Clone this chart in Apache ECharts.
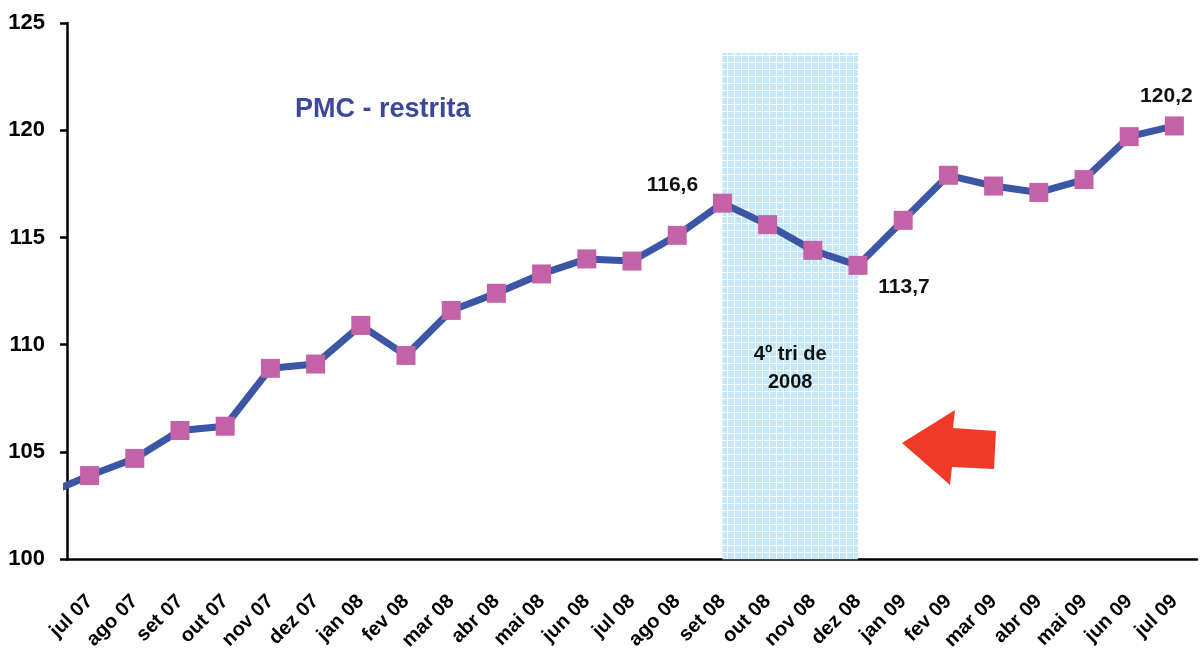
<!DOCTYPE html>
<html>
<head>
<meta charset="utf-8">
<script src="https://cdn.jsdelivr.net/npm/echarts@6/dist/echarts.min.js"></script>
<style>
  html, body { margin: 0; padding: 0; background: #fff; }
  #chart { width: 1201px; height: 653px; }
</style>
</head>
<body>
<div id="chart"></div>
<script>
const months = ["jul 07", "ago 07", "set 07", "out 07", "nov 07", "dez 07", "jan 08", "fev 08",
  "mar 08", "abr 08", "mai 08", "jun 08", "jul 08", "ago 08", "set 08", "out 08", "nov 08",
  "dez 08", "jan 09", "fev 09", "mar 09", "abr 09", "mai 09", "jun 09", "jul 09"];
const pmc = [103.9, 104.7, 106.0, 106.2, 108.9, 109.1, 110.9, 109.5, 111.6, 112.4, 113.3, 114.0,
  113.9, 115.1, 116.6, 115.6, 114.4, 113.7, 115.8, 117.9, 117.4, 117.1, 117.7, 119.7, 120.2];
// jun 07, only its segment into the plot is visible at the left edge
const pmcBefore = 103.0;
const yTicks = { min: 100, max: 125, step: 5 };
const crisisFrom = "set 08";
const crisisTo = "dez 08";
const crisisTop = 123.6;
const labelled = { "set 08": "116,6", "dez 08": "113,7", "jul 09": "120,2" };

const FONT = "'Liberation Sans', Arial, sans-serif";

function makeGridPattern() {
  const c = document.createElement("canvas");
  c.width = 7;
  c.height = 7;
  const g = c.getContext("2d");
  g.fillStyle = "#ffffff";
  g.fillRect(0, 0, 7, 7);
  g.fillStyle = "#c4e8f9";
  g.fillRect(0, 0, 6, 6);
  return c;
}

const labelOffsets = {
  "set 08": [-50, -18],
  "dez 08": [46, 22],
  "jul 09": [-8, -30]
};

const lineData = [[-1, pmcBefore]].concat(pmc.map((v, i) => {
  const m = months[i];
  const item = { value: [i, v] };
  if (labelled[m]) {
    item.label = {
      show: true,
      position: "inside",
      offset: labelOffsets[m],
      formatter: labelled[m],
      color: "#111",
      fontFamily: FONT,
      fontWeight: "bold",
      fontSize: 21
    };
  }
  return item;
}));

const chart = echarts.init(document.getElementById("chart"));
chart.setOption({
  animation: false,
  title: {
    text: "PMC - restrita",
    left: 290,
    top: 91,
    textStyle: { color: "#3d479c", fontFamily: FONT, fontWeight: "bold", fontSize: 27 }
  },
  grid: { left: 67, right: 4, top: 23, bottom: 91 },
  xAxis: [
    {
      type: "category",
      data: months,
      boundaryGap: true,
      axisLine: { lineStyle: { color: "#000", width: 2.5 } },
      axisTick: { length: 8, lineStyle: { color: "#000", width: 2.5 } },
      axisLabel: {
        rotate: 45,
        interval: 0,
        margin: 39,
        color: "#000",
        fontFamily: FONT,
        fontWeight: "bold",
        fontSize: 20
      },
      splitLine: { show: false }
    },
    {
      type: "value",
      min: -0.5,
      max: months.length - 0.5,
      show: false
    }
  ],
  yAxis: {
    type: "value",
    min: yTicks.min,
    max: yTicks.max,
    interval: yTicks.step,
    axisLine: { show: true, onZero: false, lineStyle: { color: "#000", width: 2.5 } },
    axisTick: { show: true, length: 7, lineStyle: { color: "#000", width: 2.5 } },
    axisLabel: { margin: 22, color: "#000", fontFamily: FONT, fontWeight: "bold", fontSize: 22 },
    splitLine: { show: false }
  },
  graphic: [
    {
      type: "polygon",
      z: 10,
      shape: {
        points: [[902, 443], [955, 410], [953, 428], [996, 431], [994, 469], [952, 467], [950, 485]]
      },
      style: { fill: "#ee3a26" }
    }
  ],
  series: [
    {
      type: "line",
      xAxisIndex: 1,
      data: lineData,
      clip: true,
      symbol: "rect",
      symbolSize: 19,
      lineStyle: { color: "#3c56a6", width: 7 },
      itemStyle: { color: "#c362a6" },
      z: 3,
      markArea: {
        silent: true,
        itemStyle: { color: { image: makeGridPattern(), repeat: "repeat" } },
        label: {
          show: true,
          position: "inside",
          offset: [0, 62],
          formatter: "4º tri de\n2008",
          color: "#111",
          fontFamily: FONT,
          fontWeight: "bold",
          fontSize: 20,
          lineHeight: 28,
          align: "center"
        },
        data: [[
          { xAxis: months.indexOf(crisisFrom), yAxis: yTicks.min },
          { xAxis: months.indexOf(crisisTo), yAxis: crisisTop }
        ]]
      }
    }
  ]
});
</script>
</body>
</html>
